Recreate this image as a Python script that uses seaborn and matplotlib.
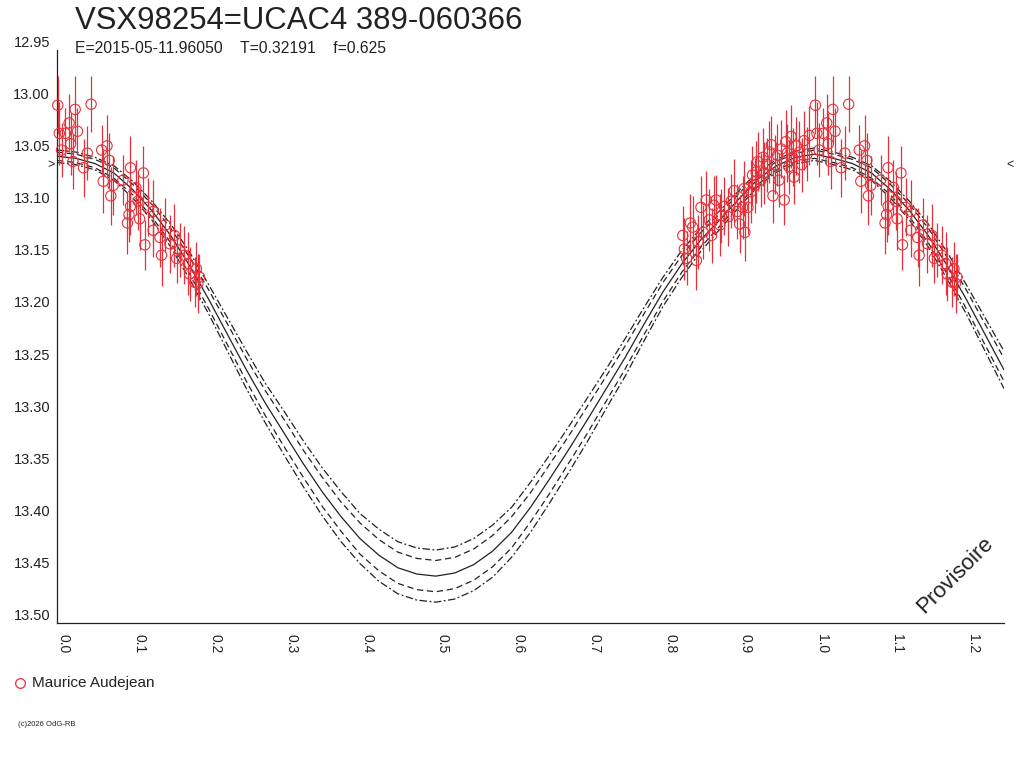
import numpy as np
import pandas as pd
import seaborn as sns
import matplotlib
matplotlib.use("Agg")
import matplotlib.pyplot as plt
from matplotlib.lines import Line2D
from matplotlib.transforms import blended_transform_factory

title = "VSX98254=UCAC4 389-060366"
subtitle = "E=2015-05-11.96050    T=0.32191    f=0.625"
observer = "Maurice Audejean"
credit = "(c)2026 OdG-RB"
stamp = "Provisoire"

# observations (phase, magnitude, error)
obs_phase = [
    0.001, 0.003, 0.006, 0.011, 0.016, 0.018, 0.021, 0.024, 0.027, 0.035,
    0.040, 0.045, 0.059, 0.061, 0.066, 0.069, 0.071, 0.074, 0.087, 0.093,
    0.095, 0.097, 0.097, 0.104, 0.107, 0.109, 0.114, 0.120, 0.116, 0.127,
    0.127, 0.136, 0.138, 0.143, 0.149, 0.155, 0.158, 0.162, 0.168, 0.173,
    0.175, 0.182, 0.184, 0.186, 0.188,
    0.826, 0.828, 0.831, 0.836, 0.839, 0.844, 0.846, 0.850, 0.853, 0.857,
    0.861, 0.864, 0.867, 0.870, 0.875, 0.877, 0.881, 0.886, 0.890, 0.894,
    0.898, 0.901, 0.905, 0.907, 0.908, 0.912, 0.916, 0.918, 0.921, 0.923,
    0.925, 0.929, 0.932, 0.933, 0.937, 0.940, 0.943, 0.945, 0.948, 0.951,
    0.953, 0.956, 0.960, 0.962, 0.964, 0.966, 0.969, 0.971, 0.973, 0.976,
    0.980, 0.983, 0.986, 0.990, 0.993,
]
obs_mag = [
    13.003, 13.030, 13.046, 13.030, 13.020, 13.040, 13.057, 13.007, 13.028, 13.063,
    13.049, 13.002, 13.046, 13.076, 13.042, 13.056, 13.090, 13.080, 13.075, 13.116,
    13.108, 13.063, 13.100, 13.082, 13.095, 13.112, 13.068, 13.101, 13.137, 13.105,
    13.123, 13.130, 13.147, 13.118, 13.136, 13.128, 13.150, 13.142, 13.147, 13.155,
    13.165, 13.173, 13.160, 13.174, 13.168,
    13.128, 13.141, 13.150, 13.116, 13.120, 13.152, 13.134, 13.101, 13.125, 13.094,
    13.113, 13.128, 13.099, 13.094, 13.118, 13.109, 13.100, 13.110, 13.095, 13.085,
    13.105, 13.117, 13.101, 13.083, 13.125, 13.101, 13.086, 13.070, 13.080, 13.067,
    13.057, 13.075, 13.053, 13.068, 13.060, 13.048, 13.041, 13.090, 13.060, 13.051,
    13.075, 13.045, 13.094, 13.038, 13.049, 13.062, 13.033, 13.053, 13.072, 13.042,
    13.048, 13.060, 13.037, 13.050, 13.032,
]
obs_err = [
    0.028, 0.030, 0.026, 0.024, 0.028, 0.030, 0.026, 0.032, 0.022, 0.028,
    0.026, 0.027, 0.024, 0.030, 0.030, 0.026, 0.028, 0.028, 0.024, 0.030,
    0.026, 0.030, 0.028, 0.026, 0.028, 0.030, 0.026, 0.028, 0.024, 0.030,
    0.026, 0.028, 0.030, 0.026, 0.028, 0.030, 0.024, 0.026, 0.028, 0.030,
    0.026, 0.024, 0.026, 0.028, 0.022,
    0.028, 0.030, 0.026, 0.028, 0.030, 0.028, 0.026, 0.030, 0.026, 0.028,
    0.030, 0.026, 0.028, 0.024, 0.030, 0.026, 0.028, 0.028, 0.026, 0.030,
    0.026, 0.028, 0.030, 0.026, 0.028, 0.026, 0.030, 0.028, 0.026, 0.030,
    0.028, 0.026, 0.028, 0.030, 0.026, 0.030, 0.028, 0.026, 0.028, 0.030,
    0.026, 0.028, 0.024, 0.030, 0.028, 0.026, 0.030, 0.028, 0.026, 0.028,
    0.030, 0.026, 0.028, 0.026, 0.028,
]

# fitted light curve over one cycle, with two bands
fit_phase = [
    0.000, 0.025, 0.050, 0.075, 0.100, 0.125, 0.150, 0.175, 0.200, 0.225,
    0.250, 0.275, 0.300, 0.325, 0.350, 0.375, 0.400, 0.425, 0.450, 0.475,
    0.500, 0.525, 0.550, 0.575, 0.600, 0.625, 0.650, 0.675, 0.700, 0.725,
    0.750, 0.775, 0.800, 0.825, 0.850, 0.875, 0.900, 0.925, 0.950, 0.975,
    1.000,
]
fit_mag = [
    13.052, 13.054, 13.059, 13.068, 13.084, 13.104, 13.128, 13.157, 13.189, 13.223,
    13.257, 13.289, 13.318, 13.347, 13.374, 13.398, 13.419, 13.435, 13.447, 13.453,
    13.455, 13.452, 13.444, 13.431, 13.413, 13.389, 13.362, 13.334, 13.305, 13.275,
    13.245, 13.213, 13.182, 13.155, 13.132, 13.113, 13.093, 13.074, 13.061, 13.053,
    13.050,
]
band_dash = [
    0.004, 0.004, 0.004, 0.005, 0.005, 0.006, 0.007, 0.008, 0.009, 0.010,
    0.011, 0.012, 0.013, 0.013, 0.014, 0.014, 0.015, 0.015, 0.015, 0.015,
    0.015, 0.015, 0.015, 0.015, 0.015, 0.014, 0.014, 0.013, 0.013, 0.012,
    0.011, 0.010, 0.009, 0.008, 0.007, 0.006, 0.005, 0.005, 0.004, 0.004,
    0.004,
]
band_dashdot = [
    0.006, 0.006, 0.006, 0.007, 0.008, 0.009, 0.011, 0.013, 0.014, 0.016,
    0.018, 0.019, 0.021, 0.022, 0.023, 0.024, 0.024, 0.025, 0.025, 0.025,
    0.025, 0.025, 0.025, 0.025, 0.024, 0.024, 0.023, 0.022, 0.021, 0.019,
    0.018, 0.016, 0.014, 0.013, 0.011, 0.009, 0.008, 0.007, 0.006, 0.006,
    0.006,
]
max_level = 13.06

x_ticks = [0.0, 0.1, 0.2, 0.3, 0.4, 0.5, 0.6, 0.7, 0.8, 0.9, 1.0, 1.1, 1.2]
x_labels = ["0.0", "0.1", "0.2", "0.3", "0.4", "0.5", "0.6",
            "0.7", "0.8", "0.9", "1.0", "1.1", "1.2"]
y_ticks = [12.95, 13.00, 13.05, 13.10, 13.15, 13.20, 13.25,
           13.30, 13.35, 13.40, 13.45, 13.50]
y_labels = ["12.95", "13.00", "13.05", "13.10", "13.15", "13.20", "13.25",
            "13.30", "13.35", "13.40", "13.45", "13.50"]

RED = "#e8303a"
INK = "#222222"

sns.set_style("white")
plt.rcParams["font.family"] = ["Liberation Sans", "DejaVu Sans"]

# phase folded: points and curve with phase < 0.25 repeated one cycle later
obs = pd.DataFrame({"phase": obs_phase, "mag": obs_mag, "err": obs_err})
rep = obs[obs["phase"] < 0.25].copy()
rep["phase"] = rep["phase"] + 1.0
obs = pd.concat([obs, rep], ignore_index=True)

fit = pd.DataFrame({"phase": fit_phase, "mag": fit_mag,
                    "d1": band_dash, "d2": band_dashdot})
fit_rep = fit[(fit["phase"] > 0) & (fit["phase"] <= 0.25)].copy()
fit_rep["phase"] = fit_rep["phase"] + 1.0
fit = pd.concat([fit, fit_rep], ignore_index=True)

fig = plt.figure(figsize=(10.24, 7.68), dpi=100)
ax = fig.add_axes([57 / 1024, 1 - 623 / 768, 947 / 1024, 573 / 768])

curves = [
    (fit["mag"], "-"),
    (fit["mag"] - fit["d1"], (0, (5, 3))),
    (fit["mag"] + fit["d1"], (0, (5, 3))),
    (fit["mag"] - fit["d2"], (0, (6, 2, 1.5, 2))),
    (fit["mag"] + fit["d2"], (0, (6, 2, 1.5, 2))),
]
for yvals, ls in curves:
    sns.lineplot(x=fit["phase"], y=yvals, ax=ax, color=INK, lw=0.9,
                 linestyle=ls, estimator=None, sort=False, zorder=2)

ax.errorbar(obs["phase"], obs["mag"], yerr=obs["err"], fmt="none",
            ecolor=RED, elinewidth=0.9, capsize=0, zorder=3, clip_on=False)
sns.scatterplot(data=obs, x="phase", y="mag", ax=ax, marker="o", s=55,
                facecolors="none", edgecolor=RED, linewidth=0.8,
                zorder=4, clip_on=False)

ax.set_xlim(0, 1.25)
ax.set_ylim(13.50, 12.95)
ax.set_xlabel("")
ax.set_ylabel("")

ax.set_xticks(x_ticks)
ax.set_xticklabels(x_labels)
ax.set_xticks([t + 0.05 for t in x_ticks], minor=True)
ax.set_yticks(y_ticks)
ax.set_yticklabels(y_labels)

ax.tick_params(axis="x", which="both", direction="out", length=7,
               width=0.8, color=INK, pad=1, labelsize=10, labelcolor=INK)
ax.tick_params(axis="y", direction="out", length=5, width=0.8,
               color=INK, pad=0, labelsize=10.5, labelcolor=INK)
for lab in ax.get_xticklabels():
    lab.set_rotation(-90)
    lab.set_ha("left")
    lab.set_va("top")
for lab in ax.get_yticklabels():
    lab.set_va("bottom")

for side in ["top", "right"]:
    ax.spines[side].set_visible(False)
for side in ["left", "bottom"]:
    ax.spines[side].set_color(INK)
    ax.spines[side].set_linewidth(0.9)

# level markers on both sides
tr = blended_transform_factory(ax.transAxes, ax.transData)
ax.text(-0.006, max_level, ">", transform=tr, ha="center", va="center",
        fontsize=9, color=INK)
ax.text(1.003, max_level, "<", transform=tr, ha="left", va="center",
        fontsize=9, color=INK, clip_on=False)

fig.text(75 / 1024, 1 - 29 / 768, title, fontsize=22.4, color=INK, va="baseline")
fig.text(75 / 1024, 1 - 53 / 768, subtitle, fontsize=11.3, color=INK, va="baseline")
fig.text(955 / 1024, 1 - 575 / 768, stamp, fontsize=16, color=INK,
         rotation=45, ha="center", va="center")

fig.add_artist(Line2D([20 / 1024], [1 - 683 / 768], transform=fig.transFigure,
                      marker="o", ms=7, mfc="none", mec=RED, mew=0.9, ls="none"))
fig.text(32 / 1024, 1 - 683 / 768, observer, fontsize=11, color=INK, va="center")
fig.text(18 / 1024, 1 - 725 / 768, credit, fontsize=5.5, color=INK, va="center")

fig.savefig("out.png", dpi=100)
plt.close(fig)
